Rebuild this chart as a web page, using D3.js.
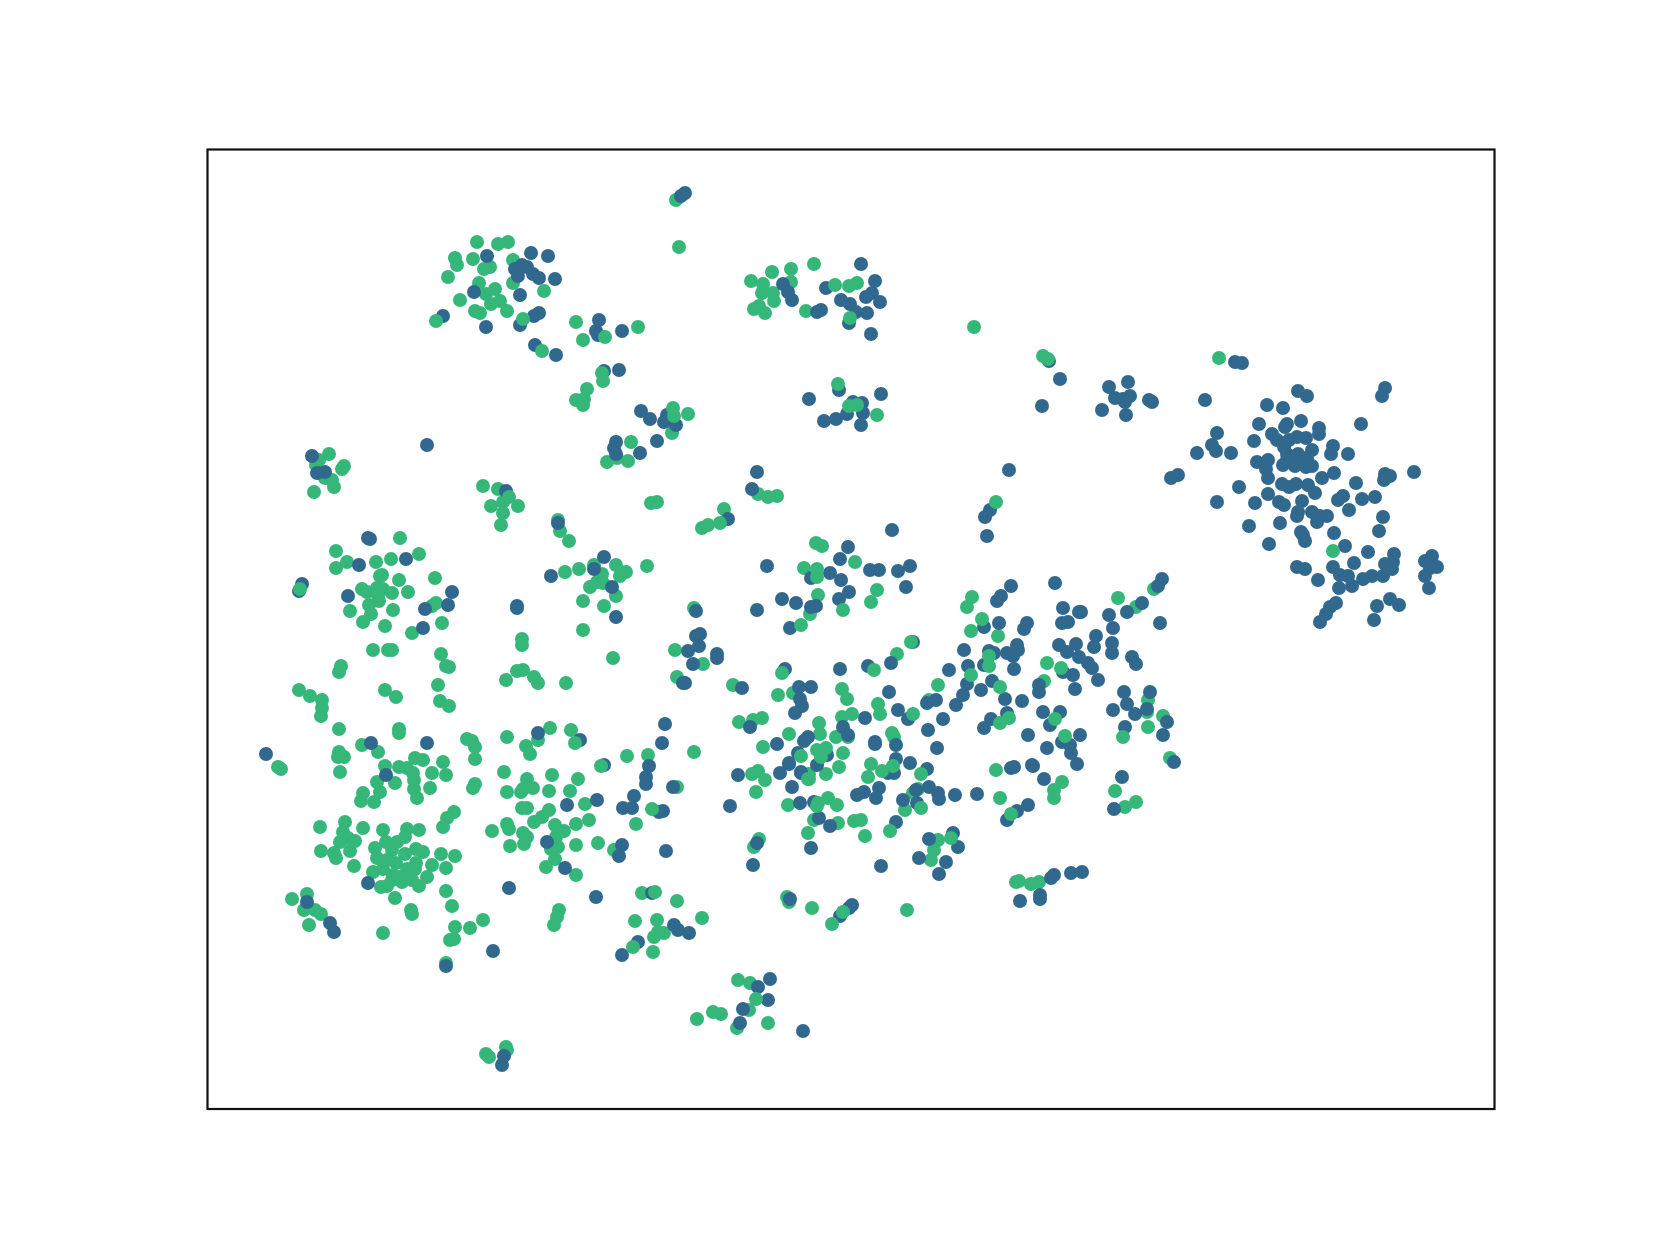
<!DOCTYPE html>
<html>
<head>
<meta charset="utf-8">
<script src="https://cdn.jsdelivr.net/npm/d3@7"></script>
<style>
  html, body { margin: 0; padding: 0; background: #fff; }
  svg { display: block; }
</style>
</head>
<body>
<svg id="scatter"></svg>
<script>
// values, drawn in this order: greenUnder, blue, greenOver
const greenUnder = [
  [477,242],[498,244],[508,242],[455,258],[457,265],[473,259],[513,260],[490,267],[484,269],[448,277],[479,283],[513,283],[495,289],[486,294],[544,291],[460,300],[500,301],[491,304],[475,311],[480,313],[507,311],
  [576,322],[583,340],[638,327],[603,381],[587,389],[576,400],[584,399],[583,405],[631,442],[607,462],[617,458],[628,461],[329,454],[316,465],[319,460],[344,466],[342,469],[325,478],[332,480],[334,487],[314,492],
  [676,200],[679,247],[751,281],[772,272],[791,269],[814,264],[791,282],[763,284],[762,293],[773,293],[774,301],[759,306],[754,309],[765,313],[806,311],[849,286],[857,283],[877,415],[688,414],[672,433],
  [974,327],[1043,356],[1136,607],[1154,589],
  [483,486],[498,489],[503,502],[491,506],[518,506],[503,513],[501,525],[651,503],[657,502],[702,528],[708,525],[724,509],[758,494],[768,497],[777,496],
  [558,520],[560,531],[569,541],[400,538],[336,551],[347,562],[336,568],[376,562],[391,559],[419,554],[382,575],[380,576],[399,580],[435,578],
  [362,589],[367,592],[377,588],[383,589],[392,593],[408,592],[378,595],[379,601],[369,605],[436,603],[432,606],[393,610],[350,611],[371,614],[363,622],[385,626],[442,623],[412,633],[373,650],[388,650],[392,650],[522,639],[522,645],
  [583,601],[604,606],[583,630],[613,658],[565,572],[579,569],[594,565],[602,574],[616,565],[626,572],[620,576],[597,582],[603,583],[590,587],[616,596],[647,566],
  [694,608],[675,650],[703,664],[677,677],[441,654],[446,666],[449,667],[341,666],[339,672],[438,685],[385,690],[396,697],[299,690],[310,696],[322,700],[322,708],[321,716],[440,701],[449,706],
  [517,671],[523,670],[534,677],[538,683],[506,680],[566,683],[339,729],[399,729],[399,733],
  [362,745],[378,752],[339,752],[338,757],[344,757],[278,767],[281,769],[340,772],[385,766],[399,767],[407,768],[413,773],[415,758],[423,760],[443,762],[432,773],[446,775],[414,780],[377,782],[395,783],[414,789],[430,788],[380,792],[363,793],[417,798],[374,802],[361,801],
  [467,739],[472,741],[475,747],[475,759],[507,737],[538,740],[550,728],[571,730],[526,746],[530,754],[627,756],[648,755],[694,752],[504,772],[552,775],[578,779],[677,787],[527,779],[475,784],[473,788],[533,788],[523,789],[521,792],[507,792],[549,791],[570,791],[585,804],
  [454,812],[447,818],[443,827],[522,808],[527,808],[549,810],[542,817],[534,822],[507,824],[509,829],[492,831],[576,824],[589,820],[555,825],[564,831],[558,832],[523,833],[527,837],[556,837],[598,843],[576,845],[510,846],[524,844],[558,847],[551,849],[614,850],[555,859],[546,867],[576,875],[636,824],
  [320,827],[345,822],[363,828],[343,832],[383,830],[407,829],[419,830],[348,838],[340,842],[355,841],[405,837],[397,842],[386,842],[375,848],[392,850],[350,851],[321,851],[334,853],[336,858],[416,849],[423,852],[405,854],[441,854],[455,856],[377,858],[387,860],[396,863],[416,863],[354,866],[432,865],[446,868],[383,869],[373,872],[407,869],[415,869],[393,875],[400,877],[407,877],[427,877],[392,880],[402,882],[412,880],[419,886],[381,887],[387,886],[446,891],[395,898],[452,906],[411,910],[412,914],
  [307,894],[292,899],[304,910],[315,910],[321,914],[309,925],[383,933],[455,927],[470,928],[483,920],[454,939],[450,940],[446,963],
  [642,893],[677,901],[702,918],[635,921],[657,920],[664,933],[658,932],[654,937],[653,952],[559,910],[557,917],[554,925],[697,1019],[713,1012],[721,1014],[486,1054],[489,1057],[506,1047],[507,1050],
  [738,980],[750,983],[749,1010],[737,1028],[768,1023],[752,774],[758,771],[765,780],[809,774],[809,779],[826,774],[839,767],[756,792],[788,805],[814,820],[838,823],[808,833],[854,821],[861,820],[865,836],[759,839],[754,847],[787,897],[789,902],[812,908],[907,910],
  [868,777],[871,764],[905,810],[913,793],[918,789],[938,840],[934,850],[931,860],[1016,882],[1019,881],[1031,884],[1039,882],[996,770],[1062,782],[1054,790],[1054,798],[1000,798],[1115,791],[1125,807],[1136,802],
  [816,543],[822,546],[855,562],[804,568],[877,590],[871,602],[818,595],[810,614],[733,685],[793,693],[778,695],[842,689],[847,699],[878,704],[880,714],[842,717],[852,714],[739,722],[753,720],[762,718],[819,723],[820,734],[848,737],[836,737],[789,734],[763,747],[892,733],[894,737],[843,753],[972,597],[967,607],[971,631],[998,636],[1047,663],[938,685],[1044,681],[929,700],[1148,700],[1147,712],[1148,727],[1163,716],[1170,758],[897,654]
];

const blue = [
  [487,256],[531,253],[548,256],[522,265],[515,269],[527,267],[518,276],[533,274],[539,278],[555,279],[474,292],[520,295],[443,316],[534,316],[539,313],[520,325],[486,327],[599,320],[596,331],[598,335],[622,331],[535,345],[556,355],[604,371],[619,370],[641,411],[650,419],[616,442],[614,448],[616,454],[640,453],[427,445],[312,456],[317,473],[325,472],
  [685,193],[681,196],[783,284],[788,292],[792,300],[861,264],[875,281],[826,288],[872,293],[866,297],[880,302],[841,300],[850,304],[856,312],[867,313],[817,312],[821,310],[849,323],[871,334],[1049,361],[1060,379],[1042,406],[1009,470],[757,472],[752,489],
  [839,390],[809,399],[881,394],[853,402],[862,403],[847,414],[863,413],[836,419],[824,421],[861,425],[667,415],[664,422],[676,425],[657,441],
  [1235,362],[1242,363],[1109,387],[1128,382],[1115,398],[1123,399],[1130,396],[1125,402],[1102,410],[1126,415],[1149,400],[1152,402],[1205,400],
  [1298,391],[1307,396],[1385,388],[1382,396],[1267,405],[1283,408],[1259,424],[1287,424],[1285,427],[1301,421],[1319,428],[1319,434],[1361,424],[1217,433],[1272,434],[1277,440],[1254,441],[1289,440],[1297,437],[1306,438],[1212,445],[1216,451],[1333,446],[1331,454],[1348,454],[1284,447],[1312,450],[1287,454],[1197,453],[1231,453],
  [1298,454],[1302,458],[1293,462],[1257,462],[1268,460],[1283,465],[1287,460],[1295,466],[1306,467],[1312,466],[1307,458],[1266,469],[1334,473],[1414,472],[1385,474],[1390,476],[1384,480],[1268,478],[1322,478],[1171,478],[1178,475],[1282,484],[1289,487],[1296,484],[1308,485],[1356,483],[1239,487],[1315,493],[1268,494],[1217,502],[1255,503],[1279,502],[1284,505],[1302,501],[1343,496],[1338,500],[1362,499],[1375,497],[1349,510],[1298,512],[1297,516],[1312,512],[1320,516],[1327,516],[1317,522],[1383,517],[1280,523],[1249,526],[1301,532],[1303,535],[1305,541],[1334,533],[1379,531],[1269,544],[1345,546],
  [1368,552],[1394,554],[1432,556],[1425,561],[1354,563],[1385,564],[1393,562],[1430,563],[1297,567],[1305,569],[1333,567],[1392,569],[1437,567],[1430,568],[1340,575],[1348,576],[1363,579],[1372,576],[1383,576],[1425,576],[1318,580],[1352,586],[1339,588],[1429,588],[1336,603],[1330,607],[1326,614],[1320,622],[1390,599],[1399,605],[1377,606],[1374,620],
  [1142,603],[1127,612],[1162,579],[1158,586],[1109,615],[1081,612],[1113,628],[1160,623],[1096,636],[1112,643],[1094,647],[1112,653],
  [506,491],[558,523],[368,538],[370,539],[359,565],[406,559],[302,584],[299,591],[452,592],[348,596],[448,605],[425,609],[423,628],[517,606],[517,608],[551,576],[594,569],[604,557],[612,587],[616,617],
  [696,611],[700,634],[696,636],[699,646],[688,651],[693,664],[683,683],[685,683],[427,743],[371,743],[266,754],[386,775],[538,733],[580,740],[604,765],[649,766],[662,743],[665,724],[646,777],[646,784],[673,787],[634,796],[597,800],[567,805],[623,808],[632,808],[659,812],[663,811],
  [547,842],[622,845],[619,856],[666,851],[565,868],[368,883],[509,888],[596,897],[307,902],[330,923],[334,932],[493,951],[446,966],[652,893],[674,925],[678,930],[689,933],[638,942],[622,955],[504,1056],[502,1065],
  [758,987],[770,979],[768,1000],[743,1009],[740,1023],[803,1031],[738,775],[780,773],[789,764],[801,773],[792,787],[730,806],[800,803],[814,802],[819,818],[830,826],[811,848],[896,822],[881,866],[757,843],[753,865],[790,899],[852,905],[849,908],[840,916],
  [857,795],[864,792],[879,788],[876,798],[888,773],[894,773],[910,763],[927,769],[916,790],[929,787],[938,793],[939,799],[955,795],[977,794],[903,800],[917,803],
  [1011,768],[1014,767],[1032,765],[1044,779],[1077,764],[1028,805],[1017,811],[1007,820],[1122,777],[1114,809],[1174,762],[929,839],[953,833],[958,847],[919,858],[946,862],[939,874],[1051,878],[1054,875],[1071,873],[1082,872],[1020,901],[1040,895],[1040,899],
  [728,519],[892,530],[990,510],[985,517],[987,536],[848,547],[840,559],[767,566],[830,573],[841,580],[870,570],[879,570],[898,571],[910,566],[906,587],[849,592],[839,599],[811,578],[782,599],[796,603],[757,610],[816,606],[811,607],[790,628],[717,654],[717,658],[742,688],
  [785,669],[840,669],[868,666],[891,663],[913,642],[799,687],[811,687],[800,699],[802,706],[795,713],[889,692],[898,710],[908,719],[865,718],[750,727],[843,727],[848,735],[808,737],[804,741],[777,744],[875,742],[875,744],[896,745],[928,730],[943,719],[937,748],[798,753],[827,755],[817,765],[789,763],[801,772],[896,759],
  [1011,586],[1055,583],[1001,596],[997,601],[1063,608],[1079,612],[1062,623],[1068,622],[1027,623],[1024,629],[999,623],[984,627],[1059,645],[1067,652],[1076,644],[964,650],[1017,645],[1018,650],[1013,656],[1007,653],[989,651],[994,653],[984,665],[968,666],[949,670],[1014,669],[1063,672],[1079,657],[1088,663],[1092,668],[1073,675],[1098,680],[1132,657],[1136,664],[992,681],[967,684],[981,690],[963,695],[1039,685],[1039,692],[1075,689],[1005,699],[1022,701],[936,700],[927,703],[956,705],
  [1124,692],[1150,692],[1127,704],[1147,709],[1113,710],[1135,714],[1043,712],[1060,712],[1007,713],[991,719],[984,728],[1050,725],[1080,735],[1028,735],[1062,742],[1070,745],[1071,753],[1047,748],[1125,727],[1163,735],[1167,722],[1033,766]
];

const greenOver = [
  [436,321],[523,319],[605,337],[542,351],[602,373],[674,416],[673,408],[835,285],[850,318],[838,384],[849,406],[857,405],[300,589],[1048,359],[509,497],[575,743],[601,766],[720,523],[782,673],[874,670],[911,642],[913,714],[801,625],[652,809],[633,947],[655,892],[756,999],
  [843,912],[832,924],[890,831],[921,774],[921,808],[951,838],[1011,814],[893,766],[1065,736],[843,610],[971,675],[1061,668],[1009,718],[1000,723],[982,619],[989,656],[989,666],[1000,687],[1055,719],[801,756],[817,750],[826,748],[821,757],[817,569],[817,577],[808,779],[828,798],[818,803],[817,806],[837,805],[882,771],[1123,737],[1219,358],[1333,551],[1118,598],[996,502]
];

// Step 1: Define dimensions
const width = 1661;
const height = 1246;
const frame = { top: 149.5, right: 1494.5, bottom: 1109, left: 207.5 };

const svg = d3.select("#scatter")
  .attr("width", width)
  .attr("height", height);

// Step 2: Define scales (values are in picture units, so the domain equals the frame)
const xScale = d3.scaleLinear()
  .domain([frame.left, frame.right])
  .range([frame.left, frame.right]);

const yScale = d3.scaleLinear()
  .domain([frame.top, frame.bottom])
  .range([frame.top, frame.bottom]);

// Step 3: Draw points
function drawPoints(points, colour) {
  svg.append("g")
    .selectAll("circle")
    .data(points)
    .enter().append("circle")
    .attr("cx", function(d) { return xScale(d[0]); })
    .attr("cy", function(d) { return yScale(d[1]); })
    .attr("r", 7)
    .attr("fill", colour);
}

drawPoints(greenUnder, "#35b779");
drawPoints(blue, "#31688e");
drawPoints(greenOver, "#35b779");

// Step 4: Axes box with no ticks
svg.append("rect")
  .attr("x", xScale(frame.left))
  .attr("y", yScale(frame.top))
  .attr("width", xScale(frame.right) - xScale(frame.left))
  .attr("height", yScale(frame.bottom) - yScale(frame.top))
  .attr("fill", "none")
  .attr("stroke", "#111")
  .attr("stroke-width", 2.2);
</script>
</body>
</html>
